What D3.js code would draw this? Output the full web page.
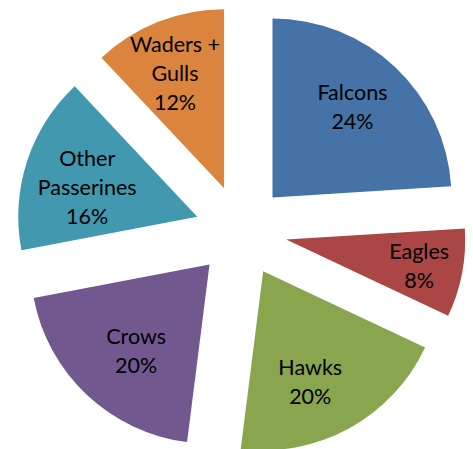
<!DOCTYPE html>
<html lang="en">
<head>
    <meta charset="UTF-8">
    <script src="https://d3js.org/d3.v7.min.js"></script>
    <style>
        body { margin: 0; background: #fff; }
        .lbl { font-family: Lato, "Open Sans", sans-serif; font-size: 21.5px; fill: #000; }
    </style>
</head>
<body>
    <div id="chart"></div>

    <script>
        // data, clockwise from 12 o'clock
        var categories = ["Falcons", "Eagles", "Hawks", "Crows", "Other Passerines", "Waders + Gulls"];
        var values = [24, 8, 20, 20, 16, 12];
        var labelLines = [["Falcons"], ["Eagles"], ["Hawks"], ["Crows"], ["Other", "Passerines"], ["Waders +", "Gulls"]];
        var colors = ["#4572A7", "#AA4643", "#89A54E", "#71588F", "#4198AF", "#DB843D"];

        var width = 473, height = 449;
        var cx = 241, cy = 231, radius = 179, explode = 46;
        // label placement: share of radius, and turn off the bisector (degrees)
        var labelDist = [0.673, 0.758, 0.676, 0.637, 0.636, 0.693];
        var labelTurn = [-1.6, 0.7, 5.9, -3.2, -3.2, -1.7];

        var svg = d3.select("#chart")
            .append("svg")
            .attr("width", width)
            .attr("height", height)
            .append("g")
            .attr("transform", "translate(" + cx + "," + cy + ")");

        var pie = d3.pie().sort(null).value(function (d) { return d; });
        var arcs = pie(values);

        var arc = d3.arc().innerRadius(0).outerRadius(radius);

        function offset(d, dist, turn) {
            var a = (d.startAngle + d.endAngle) / 2 + (turn || 0) * Math.PI / 180;
            return [Math.sin(a) * dist, -Math.cos(a) * dist];
        }

        var slices = svg.selectAll("g.slice")
            .data(arcs)
            .enter()
            .append("g")
            .attr("class", "slice")
            .attr("transform", function (d) {
                var o = offset(d, explode);
                return "translate(" + o[0] + "," + o[1] + ")";
            });

        slices.append("path")
            .attr("d", arc)
            .style("fill", function (d, i) { return colors[i]; });

        var lineH = 29;
        slices.append("text")
            .attr("class", "lbl")
            .attr("text-anchor", "middle")
            .attr("transform", function (d, i) {
                var o = offset(d, radius * labelDist[i], labelTurn[i]);
                return "translate(" + o[0] + "," + o[1] + ")";
            })
            .each(function (d, i) {
                var lines = labelLines[i].concat([values[i] + "%"]);
                var t = d3.select(this);
                var y0 = -(lines.length - 1) * lineH / 2;
                lines.forEach(function (s, k) {
                    t.append("tspan")
                        .attr("x", 0)
                        .attr("y", y0 + k * lineH)
                        .attr("dy", "0.32em")
                        .text(s);
                });
            });
    </script>
</body>
</html>
